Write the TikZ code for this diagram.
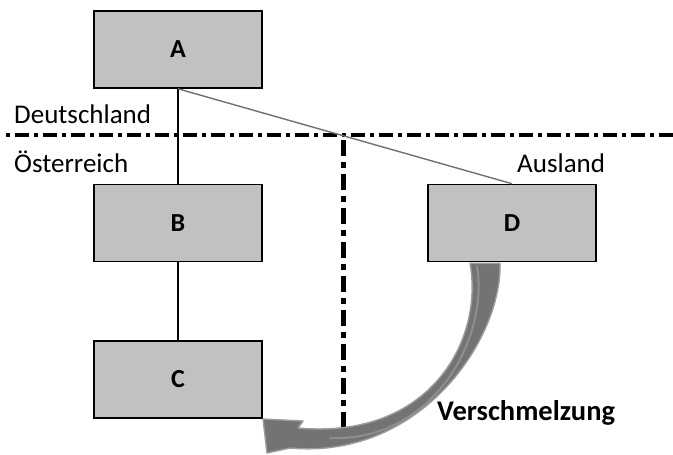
\documentclass[tikz,border=0pt]{standalone}
\usepackage{fontspec}
\setmainfont{Carlito}
\usetikzlibrary{calc}
\definecolor{boxgray}{HTML}{C1C1C3}
\definecolor{arrowgray}{HTML}{737376}
\definecolor{arrowlight}{HTML}{9C9C9E}
\definecolor{stripe}{HTML}{8E8E91}
\definecolor{linkgray}{HTML}{707070}
\tikzset{
  entity/.style={draw=black, line width=1.6pt, fill=boxgray, minimum width=168pt, minimum height=77pt, inner sep=0pt, font=\fontsize{26}{29}\selectfont\bfseries},
  lbl/.style={anchor=base west, inner sep=0pt, font=\fontsize{27}{30}\selectfont},
  border/.style={line width=4.5pt, dash pattern=on 4pt off 5pt on 14pt off 5pt},
  vborder/.style={line width=5pt, dash pattern=on 16pt off 6pt on 6pt off 6pt},
  link/.style={line width=1.2pt, black},
  glink/.style={line width=1.4pt, linkgray}
}
\begin{document}
\begin{tikzpicture}[x=1pt,y=-1pt]
\useasboundingbox (0,0) rectangle (673,455);
% borders
\coordinate (h1) at (6,135);
\coordinate (h2) at (673,135);
\coordinate (v1) at (343,140);
\coordinate (v2) at (343,433);
\draw[border] (h1) -- (h2);
\draw[vborder] (v1) -- (v2);
% boxes
\node[entity] (A) at (178,49.5) {A};
\node[entity] (B) at (178,223) {B};
\node[entity] (C) at (178,379.5) {C};
\node[entity] (D) at (512,223) {D};
% connectors
\draw[link] (A.south) -- (B.north);
\draw[link] (B.south) -- (C.north);
\draw[glink] (A.south) -- (D.north);
% labels
\node[lbl] (de) at (14,123) {Deutschland};
\node[lbl] (at) at (14,172) {Österreich};
\node[lbl] (au) at (517,172) {Ausland};
\node[lbl, font=\fontsize{28.5}{32}\selectfont\bfseries] (vs) at (437,420) {Verschmelzung};
% merge arrow
\coordinate (m1) at ($(D.south)+(-42,1)$);
\coordinate (m2) at ($(D.south)+(-12,1)$);
\fill[arrowgray, draw=arrowlight, line width=1.4pt, line join=round]
  (m1) -- (m2)
  .. controls (502,340) and (420,460) .. (290,448)
  -- (267,453) -- (263,419) -- (303,421) -- (298,428)
  .. controls (430,440) and (484,340) .. (m1) -- cycle;
\draw[stripe, line width=2pt, line cap=round]
  ($(m1)+(7,3)$) .. controls (489,340) and (432,442) .. (330,438);
\end{tikzpicture}
\end{document}
